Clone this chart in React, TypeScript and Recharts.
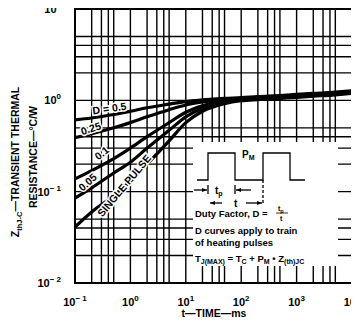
import React from 'react';
import { LineChart, Line, XAxis, YAxis, CartesianGrid, ReferenceArea } from 'recharts';

const TIME_MS = [0.1, 0.2, 0.5, 1, 2, 5, 10, 20, 50, 100, 200, 500, 1000, 2000, 5000, 10000];
const D_050 = [0.61, 0.64, 0.7, 0.76, 0.83, 0.91, 0.97, 1.01, 1.05, 1.07, 1.1, 1.13, 1.16, 1.19, 1.23, 1.27];
const D_025 = [0.39, 0.43, 0.5, 0.57, 0.66, 0.79, 0.89, 0.96, 1.02, 1.05, 1.08, 1.11, 1.14, 1.17, 1.21, 1.25];
const D_010 = [0.138, 0.17, 0.23, 0.3, 0.4, 0.57, 0.74, 0.87, 0.98, 1.03, 1.06, 1.09, 1.12, 1.15, 1.19, 1.23];
const D_005 = [0.085, 0.11, 0.16, 0.21, 0.3, 0.47, 0.66, 0.82, 0.95, 1.01, 1.04, 1.07, 1.1, 1.13, 1.17, 1.21];
const SINGLE = [0.041, 0.06, 0.09, 0.13, 0.2, 0.36, 0.57, 0.76, 0.92, 0.99, 1.02, 1.05, 1.08, 1.11, 1.15, 1.19];

const X_TICKS = [0.1, 0.2, 0.3, 0.4, 0.5, 1, 2, 3, 4, 5, 10, 20, 30, 40, 50, 100, 200, 300, 400, 500, 1000, 2000, 3000, 4000, 5000, 10000];
const Y_TICKS = [0.01, 0.02, 0.03, 0.04, 0.05, 0.1, 0.2, 0.3, 0.4, 0.5, 1, 2, 3, 4, 5, 10];

const data = TIME_MS.map((t, i) => ({
  t,
  d50: D_050[i],
  d25: D_025[i],
  d10: D_010[i],
  d05: D_005[i],
  single: SINGLE[i],
}));

const FONT = '"Liberation Sans", Arial, sans-serif';

const decade = (v: number) => {
  const l = Math.log10(v);
  return Math.abs(l - Math.round(l)) < 1e-9 ? Math.round(l) : null;
};

const XTick = (props: any) => {
  const { x, y, payload } = props;
  const e = decade(payload.value);
  if (e === null) return <g />;
  return (
    <text x={x} y={y + 15} textAnchor="middle" fontFamily={FONT} fontWeight="bold" fontSize={11} fill="#000">
      10<tspan dy={-5} fontSize={8}>{e < 0 ? '\u2212 ' + -e : e}</tspan>
    </text>
  );
};

const YTick = (props: any) => {
  const { x, y, payload } = props;
  const e = decade(payload.value);
  if (e === null) return <g />;
  return (
    <text x={x - 6} y={y + 4} textAnchor="end" fontFamily={FONT} fontWeight="bold" fontSize={11} fill="#000">
      10<tspan dy={-5} fontSize={8}>{e < 0 ? '\u2212 ' + -e : e}</tspan>
    </text>
  );
};

const series = ['d50', 'd25', 'd10', 'd05', 'single'];

export default function App() {
  return (
    <div style={{ position: 'relative', left: -8, top: -8, width: 359, height: 328 }}>
      <LineChart width={359} height={328} data={data} margin={{ top: 9, right: 7, bottom: 0, left: 0 }}>
        <CartesianGrid stroke="#000" strokeWidth={1.4} />
        <XAxis
          dataKey="t"
          type="number"
          scale="log"
          domain={[0.1, 10000]}
          ticks={X_TICKS}
          interval={0}
          tick={<XTick />}
          tickLine={false}
          axisLine={false}
          height={45}
        />
        <YAxis
          type="number"
          scale="log"
          domain={[0.01, 10]}
          ticks={Y_TICKS}
          interval={0}
          tick={<YTick />}
          tickLine={false}
          axisLine={false}
          width={75}
        />
        <ReferenceArea x1={0.1} x2={10000} y1={0.01} y2={10} fill="none" stroke="#000" strokeWidth={2} />
        {series.map((k) => (
          <Line key={k} dataKey={k} type="monotone" stroke="#000" strokeWidth={3.2} dot={false} isAnimationActive={false} />
        ))}
      </LineChart>
      <svg
        width={359}
        height={328}
        style={{ position: 'absolute', left: 0, top: 0, pointerEvents: 'none' }}
        fontFamily={FONT}
        fontWeight="bold"
        fill="#000"
      >
        {/* axis titles */}
        <g transform="translate(19,162) rotate(-90)">
          <text textAnchor="middle" fontSize={10.5}>
            Z<tspan fontSize={7.5} dy={3}>thJ-C</tspan>
            <tspan dy={-3}>{'\u2014TRANSIENT THERMAL'}</tspan>
          </text>
        </g>
        <g transform="translate(37,157) rotate(-90)">
          <text textAnchor="middle" fontSize={10.5}>
            {'RESISTANCE\u2014\u00B0C/W'}
          </text>
        </g>
        <text x={214} y={317} textAnchor="middle" fontSize={10.5}>
          {'t\u2014TIME\u2014ms'}
        </text>

        {/* curve labels */}
        <g fontSize={10.5} stroke="#fff" strokeWidth={3} paintOrder="stroke" textAnchor="middle">
          <text transform="translate(110,112) rotate(-8)">D = 0.5</text>
          <text transform="translate(92,132) rotate(-18)">0.25</text>
          <text transform="translate(104,156) rotate(-38)">0.1</text>
          <text transform="translate(90,185) rotate(-42)">0.05</text>
          <text transform="translate(127,188) rotate(-50)">SINGLE PULSE</text>
        </g>

        {/* inset */}
        <rect x={193} y={142} width={145} height={124} fill="#fff" />
        <g stroke="#000" strokeWidth={1.3} fill="none">
          <polyline points="197,180 208,180 208,153 235,153 235,180 263,180 263,153 290,153 290,180 305,180" />
          <line x1={263} y1={180} x2={263} y2={205} strokeDasharray="3,2" />
          <line x1={194} y1={190} x2={207} y2={190} />
          <line x1={208} y1={185} x2={208} y2={194} />
          <line x1={235} y1={185} x2={235} y2={194} />
          <line x1={236} y1={190} x2={251} y2={190} />
          <line x1={210} y1={203} x2={222} y2={203} />
          <line x1={246} y1={203} x2={262} y2={203} />
        </g>
        <g fill="#000">
          <polygon points="207,190 202,188 202,192" />
          <polygon points="236,190 241,188 241,192" />
          <polygon points="210,203 215,201 215,205" />
          <polygon points="262,203 257,201 257,205" />
        </g>
        <text x={242} y={158} fontSize={10}>
          P<tspan fontSize={7} dy={2}>M</tspan>
        </text>
        <text x={215} y={194} fontSize={10}>
          t<tspan fontSize={7} dy={2}>p</tspan>
        </text>
        <text x={234} y={207} fontSize={10}>t</text>
        <g fontSize={9.5}>
          <text x={195} y={217}>Duty Factor, D =</text>
          <text x={278} y={211} fontSize={7}>
            t<tspan fontSize={5.5} dy={1.5}>p</tspan>
          </text>
          <line x1={276} y1={213} x2={288} y2={213} stroke="#000" strokeWidth={0.8} />
          <text x={280} y={221} fontSize={7}>t</text>
          <text x={195} y={234}>D curves apply to train</text>
          <text x={195} y={246}>of heating pulses</text>
          <text x={195} y={262}>
            T<tspan fontSize={7} dy={2}>J(MAX)</tspan>
            <tspan dy={-2}> = T</tspan>
            <tspan fontSize={7} dy={2}>C</tspan>
            <tspan dy={-2}> + P</tspan>
            <tspan fontSize={7} dy={2}>M</tspan>
            <tspan dy={-2}>{' \u2022 Z'}</tspan>
            <tspan fontSize={7} dy={2}>(th)JC</tspan>
          </text>
        </g>
      </svg>
    </div>
  );
}
